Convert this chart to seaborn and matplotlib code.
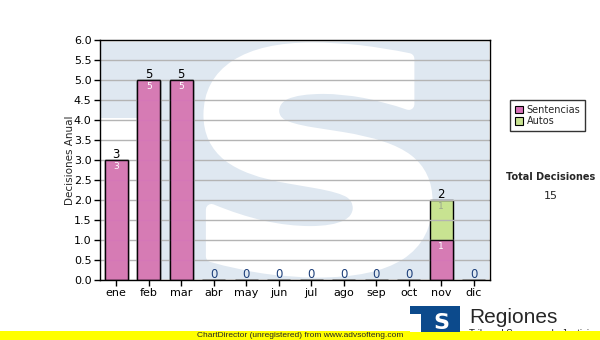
import matplotlib
matplotlib.use("Agg")
import matplotlib.pyplot as plt
from matplotlib.patches import Rectangle, Patch, Polygon, PathPatch
from matplotlib.textpath import TextPath
from matplotlib.font_manager import FontProperties
from matplotlib.transforms import Affine2D
import seaborn as sns
import pandas as pd

months = ['ene', 'feb', 'mar', 'abr', 'may', 'jun', 'jul', 'ago', 'sep', 'oct', 'nov', 'dic']
sentencias = [3, 5, 5, 0, 0, 0, 0, 0, 0, 0, 1, 0]
autos = [0, 0, 0, 0, 0, 0, 0, 0, 0, 0, 1, 0]
series_names = ['Sentencias', 'Autos']
y_ticks = [0.0, 0.5, 1.0, 1.5, 2.0, 2.5, 3.0, 3.5, 4.0, 4.5, 5.0, 5.5, 6.0]
total_label = 'Total Decisiones'
y_title = 'Decisiones Anual'

totals = [s + a for s, a in zip(sentencias, autos)]
df = pd.DataFrame({'mes': months, 'Sentencias': sentencias, 'Autos': autos, 'total': totals})

sns.set_theme(style='white')
plt.rcParams['font.family'] = ['DejaVu Sans']

PINK = '#d872b8'
GREEN = '#c8e391'
WM = '#dfe8f1'

fig = plt.figure(figsize=(6.0, 3.4), dpi=100)
fig.patch.set_facecolor('white')
ax = fig.add_axes([100 / 600, 60 / 340, 390 / 600, 240 / 340])
ax.set_facecolor('white')

ax.set_xlim(-0.5, 11.5)
ax.set_ylim(0, 6.0)


def px2x(p):
    return (p - 100) / 32.5 - 0.5


def px2y(p):
    return (280 - p) / 40


# watermark: light blue logo shape with a big white S
wm_poly = [(px2x(101), px2y(42)), (px2x(489), px2y(42)), (px2x(489), px2y(279)),
           (px2x(153), px2y(279)), (px2x(153), px2y(118)), (px2x(101), px2y(118))]
ax.add_patch(Polygon(wm_poly, closed=True, facecolor=WM, edgecolor='none', zorder=0.1))

sp = TextPath((0, 0), 'S', size=100, prop=FontProperties(family='DejaVu Sans', weight='bold'))
ext = sp.get_extents()
x0, x1 = px2x(209), px2x(427)
y0, y1 = px2y(272), px2y(48)
tr = (Affine2D().translate(-ext.x0, -ext.y0)
      .scale((x1 - x0) / ext.width, (y1 - y0) / ext.height)
      .translate(x0, y0))
ax.add_patch(PathPatch(tr.transform_path(sp), facecolor='white', edgecolor='white',
                       linewidth=8, joinstyle='round', zorder=0.2))

# bars: total first (Autos colour), Sentencias drawn over it
sns.barplot(data=df, x='mes', y='total', color=GREEN, saturation=1, width=0.72,
            edgecolor='black', linewidth=1.0, errorbar=None, ax=ax, zorder=2)
sns.barplot(data=df, x='mes', y='Sentencias', color=PINK, saturation=1, width=0.72,
            edgecolor='black', linewidth=1.0, errorbar=None, ax=ax, zorder=3, alpha=0.92)

# value labels
for i, (s, a, t) in enumerate(zip(sentencias, autos, totals)):
    ax.text(i, t + 0.05, str(t), ha='center', va='baseline', fontsize=8.5,
            color='black' if t > 0 else '#1d3f7a', zorder=5)
    if s > 0:
        ax.text(i, s - 0.17, str(s), ha='center', va='center', fontsize=6.5,
                color='white', zorder=5)
    if a > 0:
        ax.text(i, t - 0.17, str(a), ha='center', va='center', fontsize=6.5,
                color='#9aa58e', zorder=5)

ax.set_yticks(y_ticks)
ax.set_yticklabels([f'{v:.1f}' for v in y_ticks], fontsize=8, color='black')
ax.set_xticks(range(len(months)))
ax.set_xticklabels(months, fontsize=8, color='black')
ax.set_xlabel('')
ax.set_ylabel('')
ax.yaxis.grid(True, color='#b4b4b4', linewidth=1.0)
ax.xaxis.grid(False)
ax.set_axisbelow(False)
for gl in ax.get_ygridlines():
    gl.set_zorder(1)
ax.tick_params(axis='both', direction='out', length=4, width=1, color='black', pad=2,
               left=True, bottom=True)
for spn in ax.spines.values():
    spn.set_visible(True)
    spn.set_color('black')
    spn.set_linewidth(1.0)
    spn.set_zorder(6)

fig.text(70 / 600, 1 - 160 / 340, y_title, rotation=90, ha='center', va='center', fontsize=7.5)

# legend
handles = [Patch(facecolor=PINK, edgecolor='black', linewidth=0.8),
           Patch(facecolor=GREEN, edgecolor='black', linewidth=0.8)]
leg = fig.legend(handles, series_names, loc='upper left', bbox_to_anchor=(510 / 600, 1 - 100 / 340),
                 fontsize=7, frameon=True, fancybox=False, handlelength=0.8, handleheight=0.8,
                 handletextpad=0.4, labelspacing=0.15, borderpad=0.5, borderaxespad=0)
leg.get_frame().set_edgecolor('black')
leg.get_frame().set_linewidth(1.0)

fig.text(551 / 600, 1 - 177 / 340, total_label, ha='center', va='center', fontsize=7, fontweight='bold')
fig.text(551 / 600, 1 - 196 / 340, str(sum(totals)), ha='center', va='center', fontsize=8)

# footer: logo, title, yellow band
fig.text(469 / 600, 1 - 337 / 340, 'Tribunal Supremo de Justicia', ha='left', va='baseline',
         fontsize=7, family='Liberation Sans', zorder=1)
fig.add_artist(Rectangle((0, 0), 1, 9 / 340, transform=fig.transFigure,
                         facecolor='#ffff00', edgecolor='none', zorder=2))
fig.text(300 / 600, 1 - 335.5 / 340, 'ChartDirector (unregistered) from www.advsofteng.com',
         ha='center', va='center', fontsize=6, family='Liberation Sans', zorder=3)
fig.add_artist(Rectangle((410 / 600, 1 - 332 / 340), 50 / 600, 26 / 340, transform=fig.transFigure,
                         facecolor='#0c4a8c', edgecolor='none', zorder=3))
fig.add_artist(Rectangle((410 / 600, 1 - 332 / 340), 11 / 600, 18 / 340, transform=fig.transFigure,
                         facecolor='white', edgecolor='none', zorder=4))
fig.text(441 / 600, 1 - 329 / 340, 'S', ha='center', va='baseline', fontsize=16, fontweight='bold',
         color='white', family='DejaVu Sans', zorder=5)
fig.text(469 / 600, 1 - 323 / 340, 'Regiones', ha='left', va='baseline', fontsize=15,
         family='Liberation Sans', zorder=3)

fig.savefig('out.png', dpi=100)
